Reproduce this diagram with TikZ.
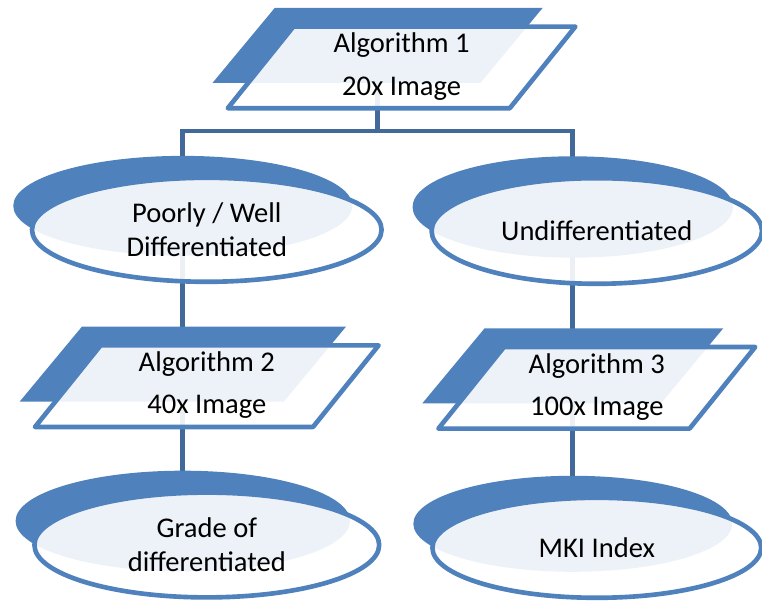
\documentclass[tikz,border=0pt]{standalone}
\usepackage{fontspec}
\setmainfont{Carlito}
\usetikzlibrary{backgrounds}
\definecolor{boxblue}{HTML}{4F81BD}
\definecolor{linkblue}{HTML}{41699A}
\tikzset{
  backfill/.style={fill=boxblue},
  frontbox/.style={draw=boxblue, line width=3.3pt, line join=round, fill=white, fill opacity=0.9},
  boxtext/.style={align=center, inner sep=0pt, font=\fontsize{20.3}{24}\selectfont},
  link/.style={draw=linkblue, line width=3.5pt},
}
% parallelogram with a blue one behind it: name, x, y, half width, line 1, line 2
\newcommand\iobox[6]{%
  \begin{scope}[shift={(#2,#3)}]
    \fill[backfill, shift={(-0.6,0.55)}, xscale=0.95, yscale=0.92]
      ({-#4-0.82},-1.02) -- ({#4-0.82},-1.02) -- ({#4+0.82},1.02) -- ({-#4+0.82},1.02) -- cycle;
    \draw[frontbox]
      ({-#4-0.82},-1.02) -- ({#4-0.82},-1.02) -- ({#4+0.82},1.02) -- ({-#4+0.82},1.02) -- cycle;
    \coordinate (#1-c) at (-0.6,0.55);
    \node[boxtext] (#1) at (0,0.02) {#5\\[6pt]#6};
  \end{scope}
}
% ellipse with a blue one behind it: name, x, y, x radius, y radius, text
\newcommand\termbox[6]{%
  \begin{scope}[shift={(#2,#3)}]
    \fill[backfill] (-0.6,0.6) ellipse [x radius={0.97*#4}, y radius={0.96*#5}];
    \draw[frontbox] (0,0) ellipse [x radius=#4, y radius=#5];
    \coordinate (#1-c) at (-0.6,0.6);
    \node[boxtext] (#1) at (0,0) {#6};
  \end{scope}
}

\begin{document}
\begin{tikzpicture}
  \useasboundingbox (0,0) rectangle (19.05,15.075);

  % 20x level
  \iobox{a1}{10.04}{13.39}{3.525}{Algorithm 1}{20x Image};
  \termbox{p1}{5.17}{9.33}{4.37}{1.3}{Poorly / Well\\Differentiated};
  \termbox{u1}{14.92}{9.3}{4.13}{1.32}{Undifferentiated};

  % 40x and 100x level
  \iobox{a2}{5.17}{5.42}{3.475}{Algorithm 2}{40x Image};
  \iobox{a3}{14.92}{5.38}{3.14}{Algorithm 3}{100x Image};
  \termbox{g1}{5.17}{1.45}{4.31}{1.31}{Grade of\\differentiated};
  \termbox{m1}{14.92}{1.38}{4.11}{1.25}{MKI Index};

  % connections, behind the boxes
  \coordinate (fork) at ([yshift=-2.14cm]a1-c);
  \begin{scope}[on background layer]
    \draw[link] (a1-c) -- (fork);
    \draw[link] (p1-c) |- (fork) -| (u1-c);
    \draw[link] (p1-c) -- (a2-c);
    \draw[link] (a2-c) -- (g1-c);
    \draw[link] (u1-c) -- (a3-c);
    \draw[link] (a3-c) -- (m1-c);
  \end{scope}
\end{tikzpicture}
\end{document}
